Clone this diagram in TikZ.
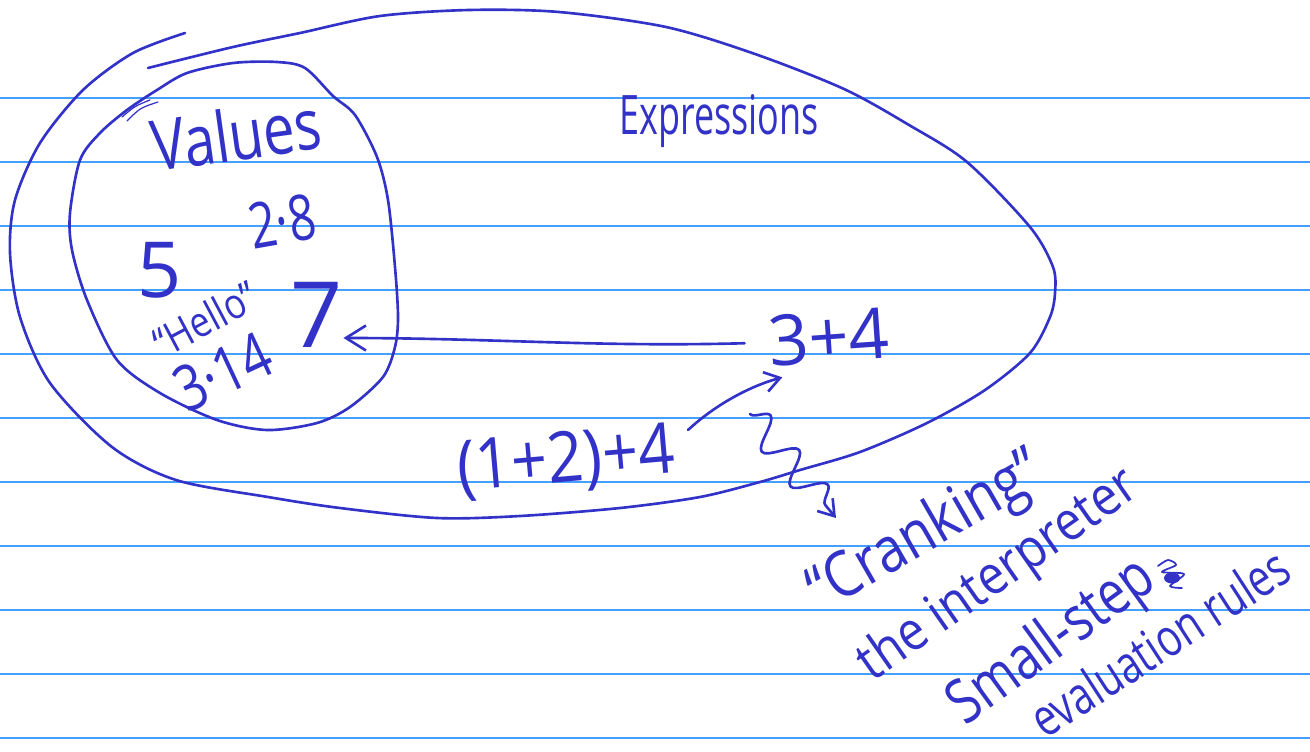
\documentclass[tikz,border=0pt]{standalone}
\usepackage{fontspec}
\setmainfont{Open Sans}
\usepackage{xcolor}
\usetikzlibrary{arrows.meta,decorations.pathmorphing}
\definecolor{inkblue}{RGB}{50,50,200}
\definecolor{ruleblue}{RGB}{70,160,255}

\begin{document}
\begin{tikzpicture}[
  x=0.02cm, y=-0.02cm,
  rule/.style={draw=ruleblue, line width=0.9pt},
  ink/.style={draw=inkblue, line width=1.5pt, line cap=round, line join=round},
  hand/.style={text=inkblue, inner sep=0pt, transform shape},
  arrow/.style={ink, -{Straight Barb[length=4mm, width=5mm]}},
  squig/.style={ink, decorate, decoration={snake, segment length=0.9cm, amplitude=0.3cm, post length=2mm}, -{Straight Barb[length=3mm, width=4mm]}}
]
\fill[white] (0,0) rectangle (1310,751);
\useasboundingbox (0,0) rectangle (1310,751);
\foreach \y in {98,162,...,738}
  \draw[rule] (0,\y) -- (1310,\y);

% the two sets
\draw[ink] plot[smooth] coordinates {(148,68) (233,47) (300,33) (380,16) (469,10) (559,12) (666,27) (755,54) (844,89) (909,125) (967,162) (1030,227) (1053,267) (1055,293) (1050,317) (1030,353) (985,390) (927,423) (860,452) (800,470) (760,482) (700,497) (620,508) (520,516) (437,518) (340,508) (268,497) (176,480) (112,447) (50,383) (20,317) (10,253) (15,200) (40,143) (83,90) (133,53) (185,33)};
\draw[ink] plot[smooth cycle] coordinates {(157,90) (187,73) (233,63) (277,62) (305,68) (333,96) (355,115) (377,157) (388,200) (395,267) (398,317) (395,347) (383,377) (350,407) (317,423) (267,430) (217,420) (160,393) (117,360) (87,300) (72,250) (70,213) (80,160) (100,133) (127,110)};
\draw[ink, line width=0.7pt] (127,121) .. controls (140,108) .. (158,102);
\draw[ink, line width=0.7pt] (122,117) .. controls (135,106) .. (150,100);

\node[hand, font=\fontsize{40}{44}\selectfont, rotate=8, xscale=0.8, anchor=base] (values) at (240,160) {Values};
\node[hand, font=\fontsize{31}{34}\selectfont, xscale=0.66, anchor=base] (expr) at (719,134) {Expressions};
\node[hand, font=\fontsize{44}{48}\selectfont] (five) at (160,270) {5};
\node[hand, font=\fontsize{52}{56}\selectfont] (seven) at (317,315) {7};
\node[hand, font=\fontsize{36}{40}\selectfont, rotate=10, xscale=0.75] (twoeight) at (282,221) {2·8};
\node[hand, font=\fontsize{24}{26}\selectfont, rotate=28, xscale=0.85] (hello) at (205,319) {“Hello”};
\node[hand, font=\fontsize{36}{40}\selectfont, rotate=25, xscale=0.8] (threefourteen) at (223,372) {3·14};
\node[hand, font=\fontsize{40}{44}\selectfont, rotate=4] (threefour) at (829,337) {3+4};
\node[hand, font=\fontsize{40}{44}\selectfont, rotate=5, xscale=0.9] (onetwofour) at (566,462) {(1+2)+4};

\node[hand, font=\fontsize{36}{40}\selectfont, rotate=30, xscale=0.85, anchor=base] (crank) at (935,548) {“Cranking”};
\node[hand, font=\fontsize{31}{35}\selectfont, rotate=35, xscale=0.88, anchor=base] (interp) at (1007,588) {the interpreter};
\node[hand, font=\fontsize{35}{39}\selectfont, rotate=36, xscale=0.8, anchor=base] (smallstep) at (1062,656) {Small-step};
\node[hand, font=\fontsize{30}{34}\selectfont, rotate=33, xscale=0.76, anchor=base] (evalrules) at (1170,659) {evaluation rules};
\fill[inkblue] (1172,578) ellipse [x radius=0.16cm, y radius=0.11cm];
\draw[ink, line width=1pt] plot[smooth] coordinates {(1158,566) (1168,560) (1176,565) (1162,572) (1184,574) (1170,586) (1182,588)};

\coordinate (squigtop) at (750,414);
\coordinate (squigend) at (836,518);

\draw[arrow] ([xshift=-0.48cm, yshift=-0.04cm]threefour.west) .. controls +(-150,4) and +(150,0) .. ([yshift=-0.46cm]seven.east);
\draw[arrow, -{Straight Barb[length=3mm, width=4mm]}] ([shift={(0.26cm,0.45cm)}]onetwofour.east) .. controls +(27,-25) and +(-33,9) .. ([shift={(0.24cm,-0.2cm)}]threefour.south west);
\draw[squig] (squigtop) -- (squigend);
\end{tikzpicture}
\end{document}
